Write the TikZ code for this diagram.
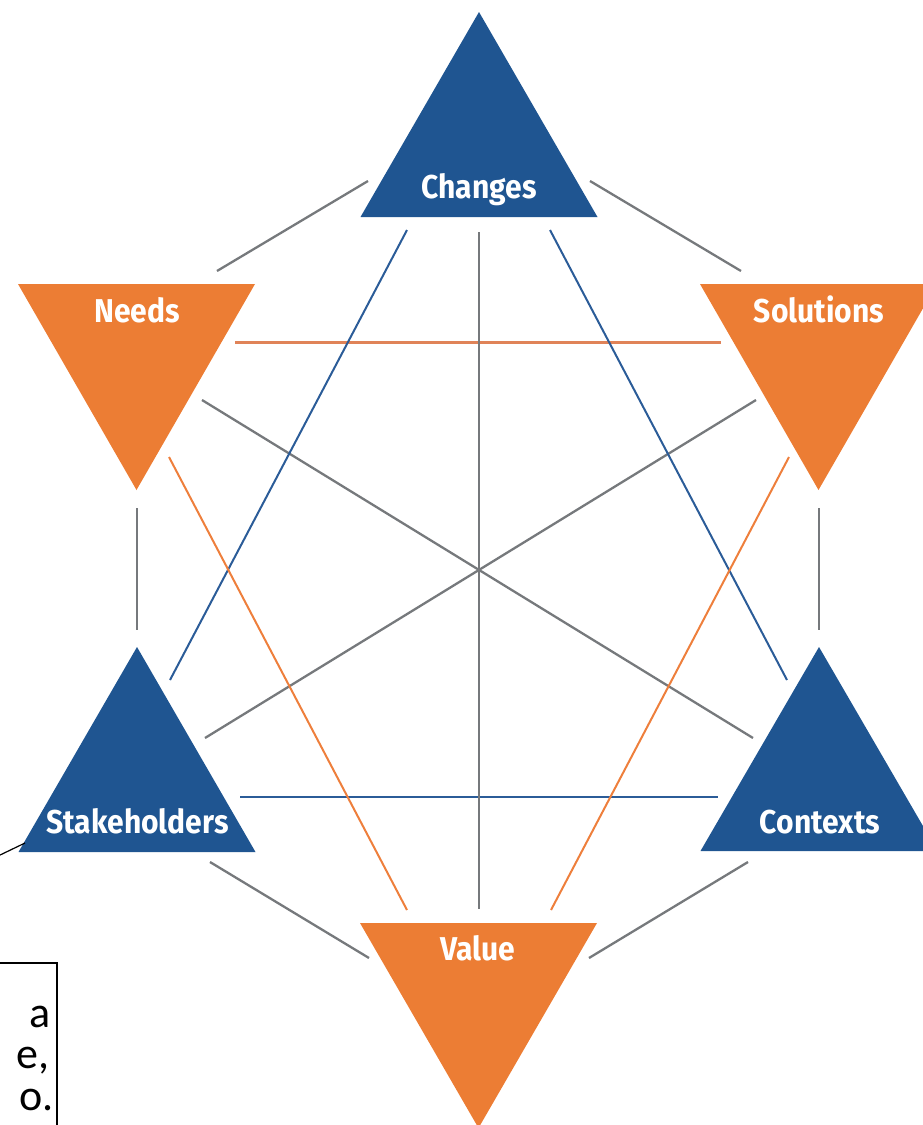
\documentclass[tikz,border=0pt]{standalone}
\usepackage{fontspec}
\newfontfamily\lblfont[FakeStretch=0.91]{Fira Sans}
\newfontfamily\calfont{Carlito}
\definecolor{tblue}{HTML}{1F5591}
\definecolor{torange}{HTML}{EC7D34}
\definecolor{lgray}{HTML}{76797C}
\definecolor{lblue}{HTML}{2B5C98}
\definecolor{lorange}{HTML}{EE7F3C}
\definecolor{horange}{HTML}{E08358}
\tikzset{
  lbl/.style={anchor=base, text=white, inner sep=0pt, font=\lblfont\bfseries\fontsize{33}{33}\selectfont},
  grayline/.style={draw=lgray, line width=2.3pt},
  blueline/.style={draw=lblue, line width=2pt},
  orangeline/.style={draw=lorange, line width=2pt},
  horline/.style={draw=horange, line width=3pt},
  hbline/.style={draw=lblue, line width=2.6pt},
  callout/.style={draw=black, line width=1.2pt},
  calltext/.style={anchor=base east, inner sep=0pt, font=\calfont\fontsize{44}{44}\selectfont}
}
\begin{document}
\begin{tikzpicture}[x=1pt,y=-1pt]
\useasboundingbox (0,0) rectangle (923,1125);
% triangles
\fill[tblue]   (479,12) -- (597.5,217) -- (360.5,217) -- cycle;
\fill[torange] (18,284) -- (255,284) -- (136.5,490) -- cycle;
\fill[torange] (700,284) -- (937,284) -- (818.5,490) -- cycle;
\fill[tblue]   (137,647) -- (255.5,852) -- (18.5,852) -- cycle;
\fill[tblue]   (819,647) -- (937.5,851) -- (700.5,851) -- cycle;
\fill[torange] (360,923) -- (597,923) -- (478.5,1128) -- cycle;
% labels
\node[lbl] (changes) at (479,198) {Changes};
\node[lbl] (needs) at (137,322) {Needs};
\node[lbl] (solutions) at (819,322) {Solutions};
\node[lbl] (stake) at (137.5,833) {Stakeholders};
\node[lbl] (contexts) at (820,833) {Contexts};
\node[lbl] (value) at (478,960) {Value};
% connector end points
\coordinate (cn1) at (217,271);  \coordinate (cn2) at (368,181);
\coordinate (cs1) at (590,181);  \coordinate (cs2) at (741,271);
\coordinate (ns1) at (137,508);  \coordinate (ns2) at (137,630);
\coordinate (sc1) at (819,508);  \coordinate (sc2) at (819,630);
\coordinate (sv1) at (210,862);  \coordinate (sv2) at (369,958);
\coordinate (cv1) at (748,862);  \coordinate (cv2) at (589,958);
\coordinate (hs1) at (235,342);  \coordinate (hs2) at (721,342);
\coordinate (hb1) at (240,797);  \coordinate (hb2) at (718,797);
\coordinate (vv1) at (479,232);  \coordinate (vv2) at (479,909);
\coordinate (nc1) at (202,400);  \coordinate (nc2) at (753,738);
\coordinate (ss1) at (756,400);  \coordinate (ss2) at (205,738);
\coordinate (cst1) at (407,230); \coordinate (cst2) at (170,680);
\coordinate (cco1) at (550,230); \coordinate (cco2) at (787,680);
\coordinate (nv1) at (169,457);  \coordinate (nv2) at (407,910);
\coordinate (sov1) at (789,457); \coordinate (sov2) at (551,910);
% connectors
\draw[grayline] (cn1) -- (cn2);
\draw[grayline] (cs1) -- (cs2);
\draw[grayline] (ns1) -- (ns2);
\draw[grayline] (sc1) -- (sc2);
\draw[grayline] (sv1) -- (sv2);
\draw[grayline] (cv1) -- (cv2);
\draw[horline] (hs1) -- (hs2);
\draw[hbline] (hb1) -- (hb2);
\draw[grayline] (vv1) -- (vv2);
\draw[grayline] (nc1) -- (nc2);
\draw[grayline] (ss1) -- (ss2);
\draw[blueline] (cst1) -- (cst2);
\draw[blueline] (cco1) -- (cco2);
\draw[orangeline] (nv1) -- (nv2);
\draw[orangeline] (sov1) -- (sov2);
% callout
\coordinate (cl1) at (-2,856);
\coordinate (cl2) at (25,843);
\draw[callout] (cl1) -- (cl2);
\draw[callout] (-300,963) rectangle (57,1300);
\node[calltext] (t1) at (51,1027) {a};
\node[calltext] (t2) at (50,1068) {e,};
\node[calltext] (t3) at (54,1110) {o.};
\end{tikzpicture}
\end{document}
